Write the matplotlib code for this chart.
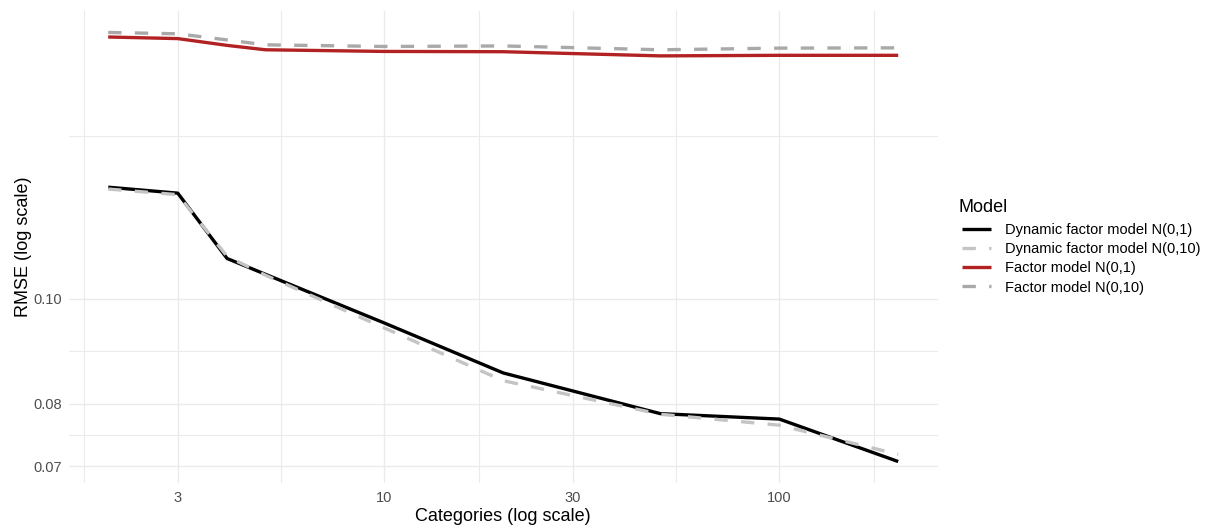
import numpy as np
import matplotlib.pyplot as plt
from matplotlib.ticker import FixedLocator, NullFormatter

plt.rcParams['font.family'] = ['Liberation Sans', 'DejaVu Sans']

# Data
categories = [2, 3, 4, 5, 10, 20, 50, 100, 200]
dyn_n01 = [0.1269, 0.1253, 0.1090, 0.1054, 0.0950, 0.0854, 0.0783, 0.0774, 0.0707]
dyn_n010 = [0.1264, 0.1249, 0.1095, 0.1052, 0.0940, 0.0840, 0.0782, 0.0764, 0.0718]
fac_n01 = [0.1748, 0.1742, 0.1717, 0.1701, 0.1695, 0.1694, 0.1679, 0.1681, 0.1681]
fac_n010 = [0.1765, 0.1760, 0.1737, 0.1719, 0.1713, 0.1715, 0.1701, 0.1707, 0.1708]

series_names = ['Dynamic factor model N(0,1)', 'Dynamic factor model N(0,10)',
                'Factor model N(0,1)', 'Factor model N(0,10)']
x_major = [3, 10, 30, 100]
x_minor = [1.732, 5.477, 17.32, 54.77, 173.2]
y_major = [0.07, 0.08, 0.10]
y_major_labels = ['0.07', '0.08', '0.10']
y_minor = [0.0748, 0.0894, 0.1414]

fig = plt.figure(figsize=(12.1, 5.31), dpi=100)
ax = fig.add_axes([68.7 / 1210, 48 / 531, 869 / 1210, 472 / 531])

styles = [
    dict(color='black', ls='-'),
    dict(color='#C4C4C4', ls=(0, (4, 4))),
    dict(color='#B22222', ls='-'),
    dict(color='#A9A9A9', ls=(0, (4, 4))),
]
all_series = [dyn_n01, dyn_n010, fac_n01, fac_n010]
for vals, name, st in zip(all_series, series_names, styles):
    ax.plot(categories, vals, lw=2.4, label=name, solid_capstyle='butt',
            dash_capstyle='butt', **st)

ax.set_xscale('log')
ax.set_yscale('log')

# ggplot-like 5% expansion on log scale
lx = np.log10([min(categories), max(categories)])
px = 0.05 * (lx[1] - lx[0])
ax.set_xlim(10 ** (lx[0] - px), 10 ** (lx[1] + px))
allv = np.concatenate([np.array(s) for s in all_series])
ly = np.log10([allv.min(), allv.max()])
py = 0.05 * (ly[1] - ly[0])
ax.set_ylim(10 ** (ly[0] - py), 10 ** (ly[1] + py))

ax.xaxis.set_major_locator(FixedLocator(x_major))
ax.xaxis.set_minor_locator(FixedLocator(x_minor))
ax.set_xticklabels([str(v) for v in x_major])
ax.xaxis.set_minor_formatter(NullFormatter())
ax.yaxis.set_major_locator(FixedLocator(y_major))
ax.yaxis.set_minor_locator(FixedLocator(y_minor))
ax.set_yticklabels(y_major_labels)
ax.yaxis.set_minor_formatter(NullFormatter())

ax.grid(which='major', color='#EBEBEB', lw=1.0)
ax.grid(which='minor', color='#EBEBEB', lw=0.8)
ax.set_axisbelow(True)
for sp in ax.spines.values():
    sp.set_visible(False)
ax.tick_params(which='both', length=0, labelsize=10.5, labelcolor='#4D4D4D')
ax.tick_params(axis='x', pad=6)
ax.tick_params(axis='y', pad=5)

ax.set_xlabel('Categories (log scale)', fontsize=13, labelpad=2)
ax.set_ylabel('RMSE (log scale)', fontsize=13, labelpad=1)

# legend title drawn separately so its gap to the keys can be set
fig.text(958 / 1210, 1 - 207 / 531, 'Model', fontsize=13, va='center', ha='left')
leg = ax.legend(loc='upper left', bbox_to_anchor=(962 / 1210, 1 - 223 / 531),
                bbox_transform=fig.transFigure, frameon=False,
                fontsize=10.5, handlelength=2.0, handletextpad=0.95,
                labelspacing=0.355, borderpad=0, borderaxespad=0)

fig.savefig('out.png', dpi=100)
